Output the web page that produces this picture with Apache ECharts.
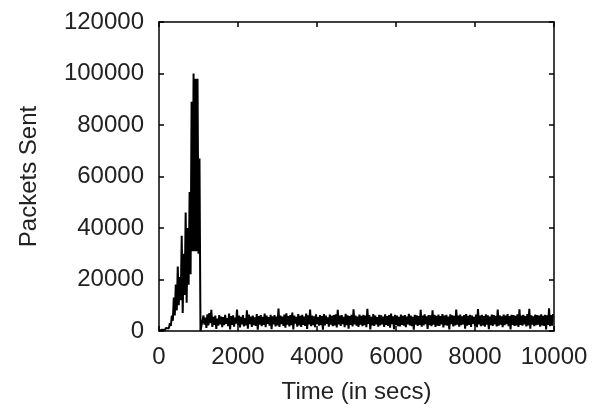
<!DOCTYPE html>
<html>
<head>
<meta charset="utf-8">
<script src="https://cdn.jsdelivr.net/npm/echarts@6/dist/echarts.min.js"></script>
<style>
  html, body { margin: 0; padding: 0; background: #fff; }
  #chart { width: 592px; height: 409px; }
</style>
</head>
<body>
<div id="chart"></div>
<script>
const binSize = 50;
const xTicks = [0, 2000, 4000, 6000, 8000, 10000];
const yTicks = [0, 20000, 40000, 60000, 80000, 100000, 120000];

const lowValues = [
  0, 100, 300, 400, 600, 1000, 2000, 4000, 6000, 8000,
  10000, 12000, 7000, 14000, 11000, 18000, 22000, 31000, 31000, 31000,
  30000, 0,
  1800, 2500, 1200, 2200, 3000, 1600, 2400, 800, 2100, 2600,
  1500, 2300, 2800, 1900, 600, 2400, 1700, 2900, 2100, 1400,
  2600, 1800, 2200, 900, 2700, 1600, 2300, 2000, 500, 2500,
  1900, 2400, 1500, 2800, 2100, 700, 2600, 1800, 2200, 1600,
  2700, 2000, 1300, 2500, 1800, 2300, 600, 2900, 1700, 2200,
  1600, 2400, 2000, 800, 2600, 1900, 2300, 1500, 2700, 2100,
  2300, 500, 2200, 2800, 1700, 2500, 1900, 2200, 1400, 2600,
  2000, 2700, 1500, 2300, 900, 2400, 1800, 2600, 2100, 1600,
  2500, 1900, 2300, 1500, 2800, 600, 2200, 2000, 2600, 1700,
  2200, 2600, 1600, 2400, 2000, 1300, 2700, 700, 2300, 1900,
  1800, 2400, 2100, 1500, 2600, 2200, 1900, 500, 2500, 2000,
  2400, 1700, 2200, 2700, 800, 2300, 1900, 2500, 1600, 2100,
  2000, 2600, 1400, 2300, 2100, 600, 2700, 1800, 2200, 2500,
  1700, 2300, 2600, 900, 2100, 2400, 1600, 2800, 2000, 1500,
  2600, 1900, 2200, 1700, 2500, 700, 2300, 2000, 2600, 1800,
  2100, 2500, 1500, 2300, 2700, 1900, 600, 2400, 2000, 2200,
  1600, 2400, 2100, 2600, 1800, 2200, 900, 2500, 1900, 2300,
  2500, 1700, 2200, 2000, 600, 2400, 1900, 2100
];

const highValues = [
  400, 500, 800, 1200, 1500, 3000, 6000, 13000, 18000, 25000,
  21000, 37000, 30000, 46000, 40000, 54000, 89000, 100000, 98000, 98000,
  67000, 2000,
  6000, 5200, 6500, 7000, 8200, 5500, 6000, 4800, 6200, 5600,
  5400, 6300, 5000, 6800, 5800, 6100, 5200, 8300, 6000, 5500,
  6200, 5000, 8000, 6400, 5600, 6000, 5300, 6600, 5800, 6200,
  5500, 6800, 6000, 5400, 6300, 5700, 6200, 5600, 8700, 6000,
  5600, 6400, 6900, 5800, 6200, 7200, 6000, 5500, 6600, 5900,
  6300, 5600, 6800, 6100, 8300, 6000, 5700, 6500, 5400, 6200,
  5800, 6600, 6000, 5300, 6400, 5900, 6200, 6500, 8200, 6000,
  6200, 5500, 6700, 6100, 5800, 6300, 8400, 6000, 5600, 6400,
  5900, 6300, 6000, 8600, 6200, 5500, 6600, 6000, 5400, 6300,
  6100, 5600, 6500, 5800, 6200, 6800, 5700, 6300, 6000, 5500,
  6400, 5900, 6200, 5600, 6700, 6000, 5500, 6300, 6100, 5800,
  8200, 6000, 6500, 5700, 6200, 6100, 8000, 6300, 5900, 6400,
  5800, 6600, 6000, 6300, 5600, 6500, 6100, 5900, 8300, 6000,
  6400, 5700, 6200, 6600, 5900, 6300, 6000, 5500, 6400, 8500,
  6000, 6300, 5800, 6500, 6100, 5600, 6400, 6200, 5900, 8300,
  6100, 5700, 6400, 6000, 6600, 5800, 6300, 6200, 5900, 6500,
  8400, 6000, 6300, 5800, 6600, 8600, 6100, 5700, 6400, 6200,
  6000, 6500, 5900, 6300, 6100, 8800, 6200, 6600
];

// each bin drawn as a low point then a high point half a bin later
const points = [];
for (let i = 0; i < lowValues.length; i++) {
  points.push([i * binSize, lowValues[i]]);
  points.push([i * binSize + binSize / 2, highValues[i]]);
}

const font = 'Liberation Sans, Arial, Helvetica, sans-serif';
const textColor = '#222';
const frame = { show: true, onZero: false, lineStyle: { color: '#000', width: 1.5 } };
const ticks = { show: true, inside: true, length: 5, lineStyle: { color: '#000', width: 1.5 } };
const plain = v => String(v);

let chart = echarts.init(document.getElementById('chart'));
chart.setOption({
  animation: false,
  backgroundColor: '#fff',
  grid: { left: 159, right: 38, top: 22, bottom: 75 },
  xAxis: [{
    type: 'value',
    min: xTicks[0],
    max: xTicks[xTicks.length - 1],
    interval: 2000,
    name: 'Time (in secs)',
    nameLocation: 'middle',
    nameGap: 49,
    nameTextStyle: { fontFamily: font, fontSize: 24, color: textColor },
    axisLine: frame,
    axisTick: ticks,
    splitLine: { show: false },
    axisLabel: { margin: 14, fontFamily: font, fontSize: 24, color: textColor, formatter: plain }
  }, {
    type: 'value',
    position: 'top',
    min: xTicks[0],
    max: xTicks[xTicks.length - 1],
    interval: 2000,
    axisLine: frame,
    axisTick: ticks,
    splitLine: { show: false },
    axisLabel: { show: false }
  }],
  yAxis: [{
    type: 'value',
    min: yTicks[0],
    max: yTicks[yTicks.length - 1],
    interval: 20000,
    name: 'Packets Sent',
    nameLocation: 'middle',
    nameGap: 118,
    nameTextStyle: { fontFamily: font, fontSize: 24, color: textColor },
    axisLine: frame,
    axisTick: ticks,
    splitLine: { show: false },
    axisLabel: { margin: 15, fontFamily: font, fontSize: 24, color: textColor, formatter: plain }
  }, {
    type: 'value',
    position: 'right',
    min: yTicks[0],
    max: yTicks[yTicks.length - 1],
    interval: 20000,
    axisLine: frame,
    axisTick: ticks,
    splitLine: { show: false },
    axisLabel: { show: false }
  }],
  series: [{
    type: 'line',
    data: points,
    showSymbol: false,
    lineStyle: { color: '#000', width: 2 },
    z: 1
  }]
});
window.addEventListener('resize', () => { chart.resize(); });
</script>
</body>
</html>
